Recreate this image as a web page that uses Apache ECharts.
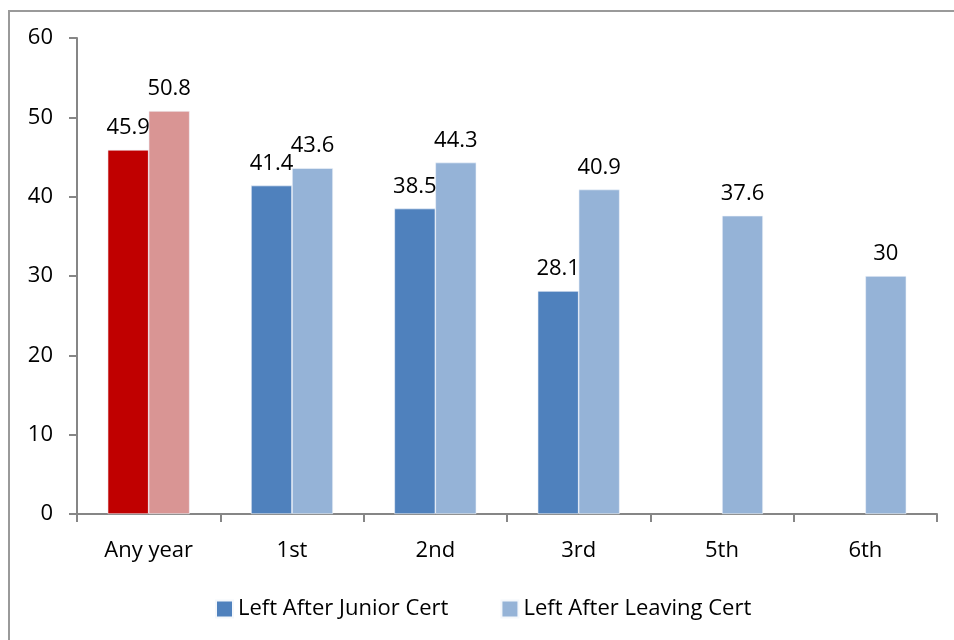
<!DOCTYPE html>
<html>
<head>
<meta charset="utf-8">
<script src="https://cdn.jsdelivr.net/npm/echarts@6/dist/echarts.min.js"></script>
<style>
  html, body { margin: 0; padding: 0; background: #fff; }
  #chart { width: 954px; height: 640px; }
</style>
</head>
<body>
<div id="chart"></div>
<script>
// data
var categories = ['Any year', '1st', '2nd', '3rd', '5th', '6th'];
var juniorCert = [45.9, 41.4, 38.5, 28.1, null, null];
var leavingCert = [50.8, 43.6, 44.3, 40.9, 37.6, 30];
var yTicks = [0, 60, 10];

var FONT = 'Open Sans';
var chart = echarts.init(document.getElementById('chart'));

// first category ("Any year") is drawn in reds
function colourise(values, first, rest) {
    return values.map(function (v, i) {
        if (v === null) return '-';
        return {value: v, itemStyle: {color: i === 0 ? first : rest}};
    });
}

var labelStyle = {
    show: true,
    position: 'top',
    distance: 11,
    fontFamily: FONT,
    fontSize: 22,
    color: '#000'
};

chart.setOption({
    animation: false,
    textStyle: {fontFamily: FONT},
    graphic: [{
        type: 'rect',
        shape: {x: 9, y: 11, width: 1000, height: 700},
        style: {fill: 'none', stroke: '#9a9a9a', lineWidth: 2}
    }],
    grid: {left: 77, right: 17, top: 38, bottom: 126},
    legend: {
        left: 210,
        top: 593,
        itemWidth: 17,
        itemHeight: 17,
        itemGap: 52,
        icon: 'rect',
        textStyle: {fontFamily: FONT, fontSize: 22, color: '#000'},
        data: ['Left After Junior Cert', 'Left After Leaving Cert']
    },
    xAxis: {
        type: 'category',
        data: categories,
        axisLine: {lineStyle: {color: '#868686', width: 2}},
        axisTick: {show: true, length: 8, lineStyle: {color: '#868686', width: 2}},
        axisLabel: {fontFamily: FONT, fontSize: 22, color: '#000', margin: 26}
    },
    yAxis: {
        type: 'value',
        min: yTicks[0],
        max: yTicks[1],
        interval: yTicks[2],
        splitLine: {show: false},
        axisLine: {show: true, lineStyle: {color: '#868686', width: 2}},
        axisTick: {show: true, length: 8, lineStyle: {color: '#868686', width: 2}},
        axisLabel: {fontFamily: FONT, fontSize: 22, color: '#000', margin: 24}
    },
    series: [
        {
            name: 'Left After Junior Cert',
            type: 'bar',
            barWidth: 41,
            barGap: '0%',
            color: '#4F81BD',
            itemStyle: {borderColor: '#f4f7fb', borderWidth: 0.6},
            label: labelStyle,
            data: colourise(juniorCert, '#C00000', '#4F81BD')
        },
        {
            name: 'Left After Leaving Cert',
            type: 'bar',
            barWidth: 41,
            barGap: '0%',
            color: '#95B3D7',
            itemStyle: {borderColor: '#f4f7fb', borderWidth: 0.6},
            label: labelStyle,
            data: colourise(leavingCert, '#D99594', '#95B3D7')
        }
    ]
});
</script>
</body>
</html>
